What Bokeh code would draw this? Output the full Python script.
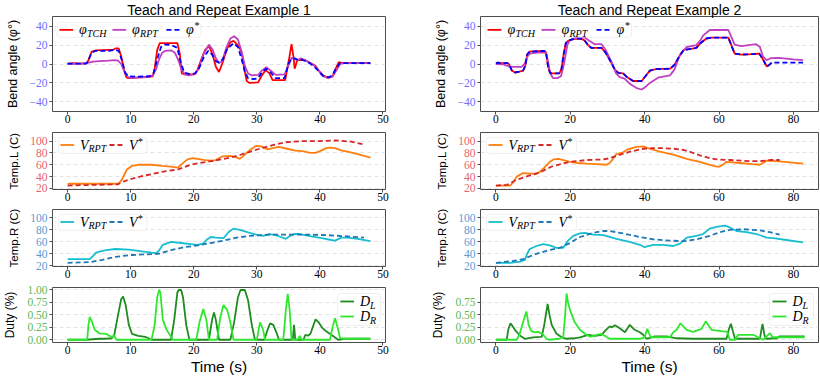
from bokeh.plotting import figure
from bokeh.layouts import gridplot
from bokeh.models import Range1d, FixedTicker, CustomJSTickFormatter, Label, BoxAnnotation
from bokeh.embed import file_html
from bokeh.resources import INLINE

# ---------------- text / ticks ----------------
TITLES = ["Teach and Repeat Example 1", "Teach and Repeat Example 2"]
Y_LABELS = ["Bend angle (φ°)", "Temp.L (C)", "Temp.R (C)", "Duty (%)"]
X_LABEL = "Time (s)"
X_TICKS = [[0, 10, 20, 30, 40, 50], [0, 20, 40, 60, 80]]
Y_TICKS_ANGLE = [-40, -20, 0, 20, 40]
Y_TICKS_TEMP = [20, 40, 60, 80, 100]
Y_TICKS_DUTY = [[0, 0.25, 0.5, 0.75, 1.0], [0, 0.25, 0.5, 0.75]]

# ---------------- Example 1 ----------------
E1_TCH_T = [0, 1, 2, 3, 3.3, 3.8, 4.5, 6.5, 7.2, 7.6, 8.1, 8.5, 8.9, 9.3, 9.6, 10.5, 12.5, 13.5, 13.8, 14.2, 14.6,
            17.4, 17.8, 18.1, 18.6, 20.1, 20.6, 21.2, 21.8, 22.4, 23.0, 23.5, 24.0, 24.6, 25.2, 25.8, 26.3, 27.0,
            27.6, 28.0, 28.4, 28.8, 30.2, 30.8, 31.4, 32.0, 32.5, 34.5, 34.9, 35.1, 35.5, 35.8, 36.0, 36.4, 37.0,
            37.7, 38.5, 39.3, 39.8, 40.5, 41.3, 42.0, 42.5, 43.0, 43.6, 48.0]
E1_TCH = [0.5, 1, 0.5, 0.8, 4, 13, 14.5, 15, 15, 16.5, 16.5, 8, -5, -14, -15, -14.5, -14, -13, -5, 15, 22,
          22, 10, -10, -11, -11, -6, 5, 15, 19, 10, -3, -8.5, 2, 15, 23, 24.5, 20,
          12, -5, -18, -20, -19.5, -12, -6.5, -10, -17, -17, -2, 5, 21, 8, -5, 4, 4.5,
          4, 1, -2, -7, -12, -14.5, -13, -5, 2, 1, 1]
E1_RPT_T = [0, 2, 3, 4, 5, 6.5, 7.5, 8.0, 8.5, 9.0, 9.5, 10, 11, 12.5, 13.5, 14.0, 14.5, 15.0, 15.5, 16.4, 17.0,
            17.5, 18.0, 18.6, 19.2, 20.2, 20.8, 21.5, 22.4, 23.0, 23.5, 24.0, 24.5, 25.2, 25.8, 26.4, 27.0, 27.6,
            28.1, 28.6, 29.2, 30.2, 30.8, 31.5, 32.2, 33.0, 34.4, 35.0, 35.5, 36.0, 36.4, 37.0, 37.7, 38.2, 39.0,
            39.8, 40.3, 41.3, 42.0, 42.6, 43.2, 43.8, 48.0]
E1_RPT = [0, 0.5, 1, 2.5, 3, 3.5, 4, 3.5, 0, -8, -13.5, -15, -14.5, -13.5, -12, -6, 5, 12, 14, 14.5, 12,
          5, -5, -11, -12, -10.5, -5, 10, 20.5, 15, 6, 1, 3, 18, 27, 29.5, 26, 13,
          -2, -10, -12, -11.5, -7, -3.5, -7, -11.5, -11, -2, 6.5, 5, 4, 6, 4, 2, -1,
          -7, -12, -15, -13.5, -7, 0, 1, 1]
E1_REF_T = [0, 3, 3.3, 3.8, 4.5, 6.5, 7.5, 8.1, 8.6, 9.1, 9.6, 11, 13, 13.6, 14.2, 14.8, 15.4, 16.5, 17.4, 17.9,
            18.5, 19.2, 20.2, 20.8, 21.5, 22.3, 22.9, 23.5, 24.0, 24.6, 25.3, 26.3, 27.0, 27.6, 28.1, 28.6, 29.5,
            30.2, 30.9, 31.5, 32.2, 33.0, 34.4, 35.0, 35.4, 36.0, 36.5, 37.2, 38.2, 39.0, 39.8, 40.6, 41.4, 42.0,
            42.6, 43.2, 48.0]
E1_REF = [0.5, 0.5, 4, 12, 14, 14, 15, 14, 4, -9, -13, -13.5, -13, -10, 5, 18, 20.5, 20, 17, 2,
          -9, -10.5, -10, -5, 6, 14, 10, 3, 1.5, 5, 16, 22, 18, 5, -8, -15, -16,
          -15, -8, -5, -9, -15, -15, 0, 5, 6, 4.5, 4.5, 1.5, -2, -7.5, -13, -14, -12,
          -4, 1, 1]

E1_TL_T = [0, 4, 8.1, 8.6, 9.4, 10.2, 11.2, 13.3, 15, 16.4, 17.5, 18.2, 19.0, 19.8, 20.6, 21.8, 22.7, 23.5, 24.5,
           25.8, 26.6, 27.3, 28.2, 28.9, 29.9, 30.7, 31.7, 32.5, 33.5, 34.8, 36.1, 37.2, 38.5, 39.3, 40.0, 41.0,
           41.6, 42.4, 43.5, 44.4, 46, 48]
E1_TL = [28, 28, 28, 35, 52, 58, 60, 60, 58, 57, 55, 62, 69, 71, 70, 68, 67, 68, 74,
         75, 73, 70, 78, 85, 92, 91, 86, 88, 90, 87, 84, 83, 80, 80, 83, 88,
         89, 88, 84, 82, 78, 72]
E1_TL_REF_T = [0, 4, 8, 8.4, 9.5, 10.7, 12, 13.3, 15.4, 17.5, 18.5, 19.5, 21, 22.7, 24.3, 25.8, 26.8, 28.4, 30.4,
               32.5, 34.6, 37.2, 40, 42.4, 45, 47]
E1_TL_REF = [25, 26, 27, 30, 34, 38, 41.5, 44, 49, 52, 56, 60, 63, 66, 69, 72, 75, 80, 87,
             93, 98, 100, 100, 101, 99, 94]

E1_TR_T = [0, 3.5, 4.0, 4.5, 5.2, 6.1, 7.6, 9.7, 11.8, 13.3, 14.1, 14.6, 15.1, 16.4, 18, 19.5, 20.6, 21.5, 22.1,
           22.7, 23.5, 24.7, 25.5, 26.3, 27.3, 28.9, 30.2, 31, 32, 33.0, 33.8, 34.6, 35.3, 35.9, 36.8, 38.2, 40.3,
           41.8, 42.4, 43.4, 44.4, 46, 48]
E1_TR = [31, 31, 36, 42, 44, 46, 48, 47, 44, 42, 41, 47, 55, 60, 58, 56, 55, 57, 64,
         68, 67, 66, 76, 82, 80, 75, 71, 70, 73, 71, 68, 65, 70, 73, 73, 70, 66,
         63, 62, 67, 67, 65, 61]
E1_TR_REF_T = [0, 3.5, 5.5, 7.6, 10.2, 12.3, 14.4, 16.4, 18.5, 20.6, 22.7, 24.7, 26.8, 28.9, 32, 35.1, 38.2, 41.3,
               44.4, 47]
E1_TR_REF = [25, 26, 30, 35, 38, 39, 40, 46, 51, 54, 58, 62, 67, 70, 72, 72, 72, 71, 69, 67]

E1_DL_T = [0, 3, 4, 5, 6, 7, 7.4, 8.0, 8.5, 8.8, 9.2, 9.7, 10.2, 11.2, 12.3, 12.8, 13.3, 16.4, 16.9, 17.4, 17.6,
           18.0, 18.3, 18.8, 19.3, 22.4, 22.9, 23.2, 23.5, 24.0, 25.8, 26.4, 27.0, 27.4, 28.1, 28.6, 29.2, 29.7,
           31.2, 31.7, 32.1, 32.6, 33.1, 33.5, 35.7, 35.9, 36.1, 37.4, 37.7, 38.1, 38.5, 39.3, 39.8, 40.3, 41.0,
           41.8, 42.9, 43.9, 48]
E1_DL = [0, 0, 0.01, 0.02, 0.02, 0.03, 0.1, 0.5, 0.82, 0.87, 0.7, 0.3, 0.12, 0.08, 0.06, 0.03, 0, 0, 0.4, 0.95, 1.0,
         1.0, 0.85, 0.3, 0, 0, 0.4, 0.55, 0.4, 0, 0, 0.35, 0.85, 1.0, 1.0, 0.8, 0.3, 0,
         0, 0.2, 0.33, 0.3, 0.15, 0, 0, 0.3, 0, 0, 0.1, 0.08, 0.12, 0.41, 0.35, 0.25, 0.17,
         0.1, 0, 0.02, 0.02]
E1_DR_T = [0, 3.1, 3.3, 3.5, 3.8, 4.3, 5.0, 6.1, 6.6, 7.1, 7.4, 7.6, 7.8, 13.3, 13.8, 14.2, 14.5, 14.7, 15.1, 15.7,
           16.2, 16.7, 20.4, 20.9, 21.5, 22.0, 22.4, 23.7, 24.2, 24.7, 25.3, 25.8, 26.3, 30.0, 30.5, 31.0, 31.3,
           34.2, 34.6, 34.9, 35.2, 35.5, 36.5, 36.8, 37.1, 41.6, 42.0, 42.4, 42.8, 43.2, 44, 48]
E1_DR = [0, 0, 0.3, 0.46, 0.38, 0.2, 0.13, 0.12, 0.08, 0.06, 0.09, 0.02, 0, 0, 0.3, 0.85, 1.0, 0.95, 0.4, 0.2,
         0.1, 0, 0, 0.35, 0.62, 0.4, 0, 0, 0.45, 0.7, 0.6, 0.35, 0, 0, 0.35, 0.2, 0,
         0, 0.6, 0.92, 0.6, 0, 0, 0.08, 0, 0, 0.25, 0.43, 0.25, 0.03, 0.02, 0.02]

# ---------------- Example 2 ----------------
E2_TCH_T = [0, 0.5, 1.5, 3, 3.5, 4.3, 5.1, 6.3, 7.3, 7.9, 8.4, 9.0, 11, 13.0, 13.5, 14.0, 14.5, 15, 17.0, 17.6,
            18.2, 18.8, 19.4, 20.5, 21.7, 23.0, 23.8, 24.8, 25.7, 28.4, 29.5, 30.8, 32.0, 32.9, 34.2, 35.3, 36.9,
            39.2, 40.2, 41.4, 43.0, 46.8, 48.0, 49.3, 50.5, 52.5, 53.9, 55.0, 56.6, 58, 62.5, 63.3, 64.2, 66,
            69, 70.8, 71.8, 72.8, 73.5, 74.2]
E2_TCH = [0.5, 1.5, 0.8, 1, 0, -7, -9, -8, -7, -2, 10, 13, 13.5, 14, 12, -2, -9, -10, -10, -6,
          10, 22, 24.5, 26, 27, 26.5, 25, 20, 17, 17, 12, 3, -6, -9.5, -10, -14, -18,
          -18, -13, -7, -5.5, -5, -1, 8, 15, 16, 17, 22, 27, 28, 28, 20, 11, 10,
          10.5, 11, 5, -2.5, -1, 1.5]
E2_REF_T = E2_TCH_T + [76, 82.6]
E2_REF = E2_TCH + [1.5, 1.5]
E2_RPT_T = [0, 2, 3.8, 6.9, 7.7, 8.5, 9.1, 11, 13.3, 13.9, 14.6, 15.4, 16.5, 17.5, 18.3, 19.2, 19.9, 21, 22.6,
            23.9, 25.0, 26.6, 28.4, 29.5, 31.0, 32.3, 33.3, 34.6, 36.0, 37.8, 39.2, 40.3, 41.4, 43.6, 46.8, 48.0,
            49.5, 51.3, 53.9, 55.0, 55.7, 57.5, 62.5, 63.4, 64.2, 66.0, 68.0, 70.0, 71.0, 71.8, 72.8, 74.0, 76,
            80, 82.6]
E2_RPT = [0, -0.5, -3, -3, 0, 8, 11, 12, 12, 5, -10, -15, -15, -13, 0, 20, 25, 27, 28,
          28, 25, 21, 21, 15, 3, -10, -14, -15.5, -21, -25.5, -27, -24, -20, -14.5, -12, -6,
          10, 18, 20, 25, 30, 36, 36, 28, 20.5, 19, 20, 21, 18, 8, 4, 6.3, 6.5,
          5, 4.2]

E2_TL_T = [0, 3.8, 4.6, 5.6, 7.3, 9.1, 10.9, 11.8, 13.0, 14.5, 15.5, 16.8, 18.1, 19.9, 22, 24.4, 27.1, 29.7, 30.6,
           31.5, 32.4, 34.2, 35.5, 37.8, 39.6, 41.4, 44.1, 47.7, 51.3, 54.8, 57.5, 59.3, 60.2, 61.2, 62, 65.6,
           69, 71, 72, 72.8, 75.4, 79, 82.6]
E2_TL = [25, 25, 30, 40, 46, 45, 45, 48, 55, 65, 69, 70, 68, 65, 63, 62, 61, 60, 63,
         70, 78, 81, 86, 90, 91, 87, 82, 77, 70, 65, 60, 57, 57, 61, 65, 63,
         61, 60, 64, 67, 66, 64, 62]
E2_TL_REF_T = [0, 2.9, 4.2, 5.6, 9.1, 11.8, 13.6, 15.4, 19.9, 24.4, 28.9, 30.6, 32.4, 36, 39.6, 42, 45, 48, 50.4,
               52.6, 54.8, 57, 59.3, 62.9, 68.3, 71, 73.7, 76.3]
E2_TL_REF = [25, 26, 30, 35, 42, 47, 53, 58, 65, 68, 69, 71, 75, 82, 87, 88, 88, 87, 85,
             81, 76, 72, 69, 68, 66, 66, 68, 68]

E2_TR_T = [0, 3.8, 6.5, 7.8, 8.4, 9.1, 10.9, 12.7, 14.5, 16.3, 18.1, 19.4, 20.8, 22.6, 23.9, 26.2, 28.9, 32.4, 36,
           38.7, 40, 41, 42.3, 45, 47.7, 49.5, 51.3, 53.9, 55.7, 57.5, 59.3, 61.6, 62.9, 64.7, 67.4, 70.1, 72.8,
           74.6, 78.1, 82.6]
E2_TR = [25, 25, 27, 30, 40, 48, 53, 56, 54, 50, 50, 62, 70, 74, 75, 72, 71, 65, 60,
         55, 51, 53, 55, 55, 53, 57, 67, 70, 73, 82, 85, 87, 84, 78, 76, 73, 67,
         66, 63, 59]
E2_TR_REF_T = [0, 4.7, 7.3, 10, 13.6, 17.2, 19.9, 22.6, 26.2, 28.9, 30.6, 34.2, 38.7, 42.3, 46.8, 50.4, 53.9, 57.5,
               60.2, 62.9, 66.5, 71, 73.7, 76.3]
E2_TR_REF = [25, 28, 31, 38, 45, 50, 58, 68, 75, 78, 78, 74, 68, 64, 62, 61, 64, 70,
             76, 80, 81, 79, 76, 72]

E2_DL_T = [0, 2.9, 3.3, 3.9, 4.5, 5.1, 6.5, 7.8, 10, 12.3, 13.0, 13.9, 14.4, 15, 16.3, 17.7, 19, 21, 22.6, 24.8,
           26.6, 28.4, 29.6, 30.6, 31.2, 32, 33.3, 34.7, 36, 37.3, 38.7, 39.6, 40.5, 42.7, 45.9, 48.6, 53, 62,
           62.6, 63.2, 63.8, 64.3, 71, 71.4, 71.7, 72.2, 72.6, 75.5, 76.3, 83]
E2_DL = [0, 0, 0.2, 0.33, 0.27, 0.2, 0.08, 0.02, 0.05, 0.06, 0.3, 0.72, 0.5, 0.3, 0.12, 0.05, 0.02, 0.03, 0.05, 0.1,
         0.08, 0.1, 0.2, 0.27, 0.25, 0.29, 0.23, 0.15, 0.3, 0.2, 0.15, 0.1, 0.02, 0.07, 0.07, 0.03, 0.02, 0.02,
         0.2, 0.32, 0.15, 0.02, 0.02, 0.2, 0.32, 0.1, 0.02, 0.03, 0.07, 0.07]
E2_DR_T = [0, 5.6, 6.3, 7.5, 8.2, 8.8, 9.5, 10.5, 11.4, 12.7, 13.6, 14.5, 17, 18.1, 18.6, 19.0, 19.4, 19.9, 21.2,
           22.6, 23.9, 25.3, 27.1, 28.4, 29.7, 30.6, 38.7, 40, 40.7, 41.6, 46.8, 47.7, 48.6, 49.6, 51.3, 53, 55.3,
           56.4, 58, 61.1, 62.2, 62.9, 64.4, 65.1, 69.2, 70.5, 71.9, 73.2, 73.7, 74.4, 75, 83]
E2_DR = [0, 0, 0.1, 0.4, 0.57, 0.3, 0.18, 0.15, 0.16, 0.1, 0.02, 0, 0.02, 0.05, 0.5, 0.93, 0.75, 0.6, 0.35,
         0.2, 0.12, 0.06, 0.1, 0.12, 0.06, 0.02, 0.02, 0.05, 0.22, 0.05, 0.05, 0.15, 0.2, 0.33, 0.2, 0.16, 0.22,
         0.37, 0.2, 0.17, 0.16, 0, 0, 0.1, 0.1, 0.05, 0, 0.1, 0.13, 0.05, 0.05, 0.05]

# ---------------- styling ----------------
C_TCH, C_RPT, C_REF = "#ff0000", "#c040c0", "#0000ff"
C_TL, C_TL_REF = "#ff7f0e", "#d62728"
C_TR, C_TR_REF = "#17becf", "#1f77b4"
C_DL, C_DR = "#1f8c1f", "#2ee82e"
TICK_COLORS = ["#6e6eff", "#e8646e", "#5b9bd5", "#5cb85c"]
YLABEL_SIZES = ["12.5px", "11.5px", "11.5px", "12px"]

COL_W = 410
LEFT_B = [46, 70]
RIGHT_B = [25, 2]
ROW_H = [131, 77, 74, 95]
TOP_B = [15, 1, 1, 5]
BOT_B = [20, 19, 16, 35]
X_RANGES = [(-2.4, 50.4), (-4.15, 86.75)]
Y_RANGES = [(-50.3, 50.3), (18.3, 114.4), (18.8, 113.9), (-0.055, 1.05)]
LW = 1.8
DASH = "5 3"

PANELS = [
    [[(E1_TCH_T, E1_TCH, C_TCH, "solid"), (E1_RPT_T, E1_RPT, C_RPT, "solid"), (E1_REF_T, E1_REF, C_REF, DASH)],
     [(E2_TCH_T, E2_TCH, C_TCH, "solid"), (E2_RPT_T, E2_RPT, C_RPT, "solid"), (E2_REF_T, E2_REF, C_REF, DASH)]],
    [[(E1_TL_T, E1_TL, C_TL, "solid"), (E1_TL_REF_T, E1_TL_REF, C_TL_REF, DASH)],
     [(E2_TL_T, E2_TL, C_TL, "solid"), (E2_TL_REF_T, E2_TL_REF, C_TL_REF, DASH)]],
    [[(E1_TR_T, E1_TR, C_TR, "solid"), (E1_TR_REF_T, E1_TR_REF, C_TR_REF, DASH)],
     [(E2_TR_T, E2_TR, C_TR, "solid"), (E2_TR_REF_T, E2_TR_REF, C_TR_REF, DASH)]],
    [[(E1_DL_T, E1_DL, C_DL, "solid"), (E1_DR_T, E1_DR, C_DR, "solid")],
     [(E2_DL_T, E2_DL, C_DL, "solid"), (E2_DR_T, E2_DR, C_DR, "solid")]],
]

# legend specs: box (x, y, w, h) px from frame top-left (negative x = from right edge),
# items: (line x, line y, color, dash, main, sub, sup)
LEGENDS = [
    ((5, 6, 146, 15), [(7, 13.5, C_TCH, "solid", "φ", "TCH", None),
                       (61, 13.5, C_RPT, "solid", "φ", "RPT", None),
                       (116, 13.5, C_REF, DASH, "φ", None, "*")]),
    ((6, 5, 90, 16), [(8, 12.5, C_TL, "solid", "V", "RPT", None),
                      (58, 12.5, C_TL_REF, DASH, "V", None, "*")]),
    ((6, 5, 90, 16), [(8, 12.5, C_TR, "solid", "V", "RPT", None),
                      (58, 12.5, C_TR_REF, DASH, "V", None, "*")]),
    ((-49, 6, 44, 32), [(-46, 14, C_DL, "solid", "D", "L", None),
                        (-46, 29, C_DR, "solid", "D", "R", None)]),
]
MAIN_W = {"φ": 8, "V": 8.5, "D": 10}


def to_data(cfg, px, py):
    x0, x1, y0, y1, fw, fh = cfg
    if px < 0:
        px = fw + px
    return x0 + px * (x1 - x0) / fw, y1 - py * (y1 - y0) / fh


def draw_legend(p, cfg, spec):
    (bx, by, bw, bh), items = spec
    l, t = to_data(cfg, bx, by)
    r, b = to_data(cfg, (bx + bw) if bx >= 0 else (cfg[4] + bx + bw), by + bh)
    p.add_layout(BoxAnnotation(left=l, right=r, top=t, bottom=b, fill_color="white", fill_alpha=0.85,
                               line_color="#cccccc", line_width=1, border_radius=3))
    for lx, ly, color, dash, main, sub, sup in items:
        xa, ya = to_data(cfg, lx, ly)
        xb, _ = to_data(cfg, lx + 14 if lx >= 0 else cfg[4] + lx + 14, ly)
        p.line([xa, xb], [ya, ya], line_color=color, line_width=LW, line_dash=dash, level="overlay")
        xt, _ = to_data(cfg, lx + 20 if lx >= 0 else cfg[4] + lx + 20, ly)
        p.add_layout(Label(x=xt, y=ya, text=main, text_font="Liberation Serif", text_font_style="italic",
                           text_font_size="14px", text_baseline="middle", text_color="black"))
        if sub:
            p.add_layout(Label(x=xt, y=ya, x_offset=MAIN_W[main], y_offset=-3.5, text=sub,
                               text_font="Liberation Serif", text_font_style="italic", text_font_size="10px",
                               text_baseline="middle", text_color="black"))
        if sup:
            p.add_layout(Label(x=xt, y=ya, x_offset=MAIN_W[main] + 0.5, y_offset=4, text=sup,
                               text_font="Liberation Serif", text_font_size="10px",
                               text_baseline="middle", text_color="black"))


def make_fig(r, c):
    x0, x1 = X_RANGES[c]
    y0, y1 = Y_RANGES[r]
    kw = {}
    if r == 0:
        kw["title"] = TITLES[c]
    p = figure(width=COL_W, height=ROW_H[r], output_backend="svg", toolbar_location=None,
               x_range=Range1d(x0, x1), y_range=Range1d(y0, y1),
               min_border_left=LEFT_B[c], min_border_right=RIGHT_B[c],
               min_border_top=TOP_B[r], min_border_bottom=BOT_B[r], **kw)
    fw = COL_W - LEFT_B[c] - RIGHT_B[c]
    fh = ROW_H[r] - TOP_B[r] - BOT_B[r]
    cfg = (x0, x1, y0, y1, fw, fh)
    if r == 0:
        p.title.text_font = "Liberation Sans"
        p.title.text_font_size = "14px"
        p.title.text_font_style = "normal"
        p.title.text_color = "black"
        p.title.align = "center"
        p.title.standoff = -2
        p.title.offset = 0
        p.title.text_line_height = 1.0
    p.background_fill_color = "white"
    p.border_fill_color = "white"
    p.outline_line_color = "#4d4d4d"
    p.outline_line_width = 1
    p.xgrid.visible = False
    p.ygrid.grid_line_color = "#dcdcdc"
    p.ygrid.grid_line_dash = "4 3"
    p.ygrid.grid_line_width = 0.8

    p.xaxis.ticker = FixedTicker(ticks=X_TICKS[c])
    if r == 0:
        yt = Y_TICKS_ANGLE
    elif r in (1, 2):
        yt = Y_TICKS_TEMP
    else:
        yt = Y_TICKS_DUTY[c]
    p.yaxis.ticker = FixedTicker(ticks=yt)
    p.xaxis.formatter = CustomJSTickFormatter(code="return (tick < 0 ? '\\u2212' : '') + Math.abs(tick).toString();")
    if r == 3:
        p.yaxis.formatter = CustomJSTickFormatter(code="return tick.toFixed(2);")
    else:
        p.yaxis.formatter = CustomJSTickFormatter(code="return (tick < 0 ? '\\u2212' : '') + Math.abs(tick).toString();")

    for ax in (p.xaxis[0], p.yaxis[0]):
        ax.axis_line_color = None
        ax.major_tick_line_color = "#4d4d4d"
        ax.major_tick_in = 0
        ax.major_tick_out = 3
        ax.minor_tick_line_color = None
        ax.major_label_text_font = "Liberation Serif"
        ax.major_label_text_font_size = "11.5px"
        ax.axis_label_text_font_style = "normal"
        ax.axis_label_text_color = "black"
    p.xaxis.major_label_standoff = 0
    p.yaxis.major_label_standoff = 2
    p.xaxis.major_label_text_color = "black"
    p.yaxis.major_label_text_color = TICK_COLORS[r]
    p.yaxis.axis_label = Y_LABELS[r]
    p.yaxis.axis_label_text_font = "Liberation Sans"
    p.yaxis.axis_label_text_font_size = YLABEL_SIZES[r]
    p.yaxis.axis_label_standoff = 7
    if r == 3:
        p.xaxis.axis_label = X_LABEL
        p.xaxis.axis_label_text_font = "Liberation Sans"
        p.xaxis.axis_label_text_font_size = "15.5px"
        p.xaxis.axis_label_standoff = 1

    for t, v, color, dash in PANELS[r][c]:
        p.line(t, v, line_color=color, line_width=LW, line_dash=dash)

    draw_legend(p, cfg, LEGENDS[r])
    return p


figs = [[make_fig(r, c) for c in range(2)] for r in range(4)]
grid = gridplot(figs, toolbar_location=None)
open("out.html", "w").write(file_html(grid, INLINE))
